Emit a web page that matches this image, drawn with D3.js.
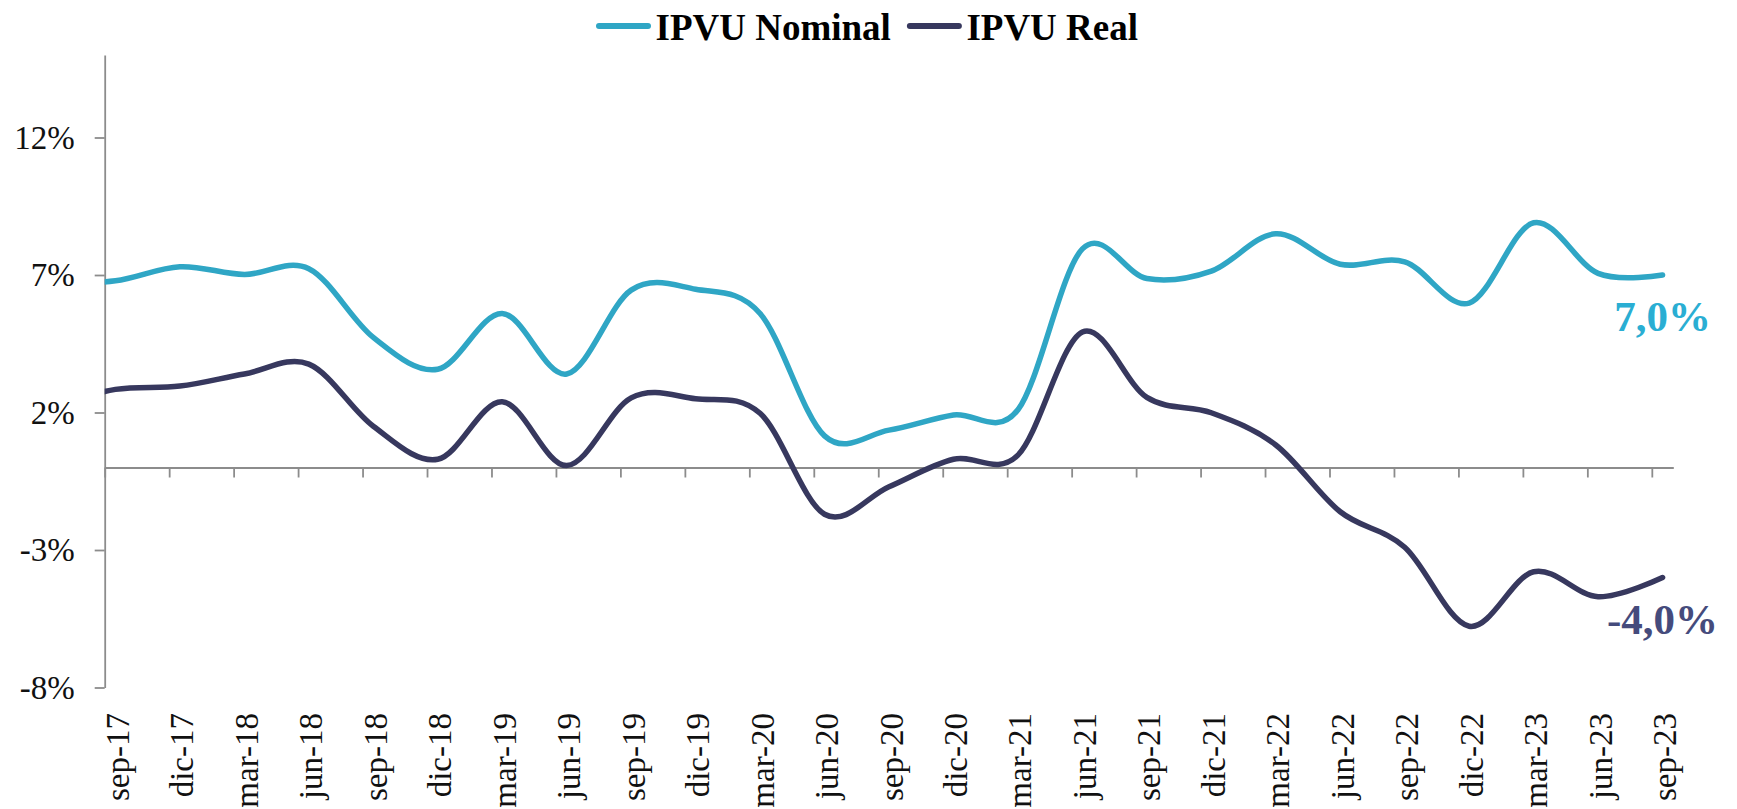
<!DOCTYPE html>
<html><head><meta charset="utf-8">
<script src="https://cdn.jsdelivr.net/npm/d3@7"></script>
<style>
html,body{margin:0;padding:0;background:#fff;}
svg{display:block;}
</style></head><body>
<svg id="chart" width="1737" height="809"></svg>
<script>
// Quarterly periods; "jun-17" is a lead-in point left of the axis (clipped, like the original)
const periods = ["jun-17","sep-17","dic-17","mar-18","jun-18","sep-18","dic-18","mar-19","jun-19","sep-19","dic-19","mar-20","jun-20","sep-20","dic-20","mar-21","jun-21","sep-21","dic-21","mar-22","jun-22","sep-22","dic-22","mar-23","jun-23","sep-23"];
const nominal = [6.70, 6.79, 7.30, 7.02, 7.23, 4.73, 3.57, 5.60, 3.40, 6.45, 6.48, 5.60, 1.15, 1.36, 1.91, 2.10, 7.95, 6.87, 7.14, 8.50, 7.39, 7.48, 5.98, 8.90, 7.06, 7.00];
const real    = [2.20, 2.84, 2.96, 3.40, 3.76, 1.50, 0.30, 2.39, 0.07, 2.53, 2.50, 1.97, -1.70, -0.70, 0.30, 0.45, 4.93, 2.55, 1.99, 0.82, -1.61, -2.90, -5.77, -3.79, -4.70, -4.00];
const yTicks = [-8, -3, 2, 7, 12];
const tickLabels = periods.slice(1);
const seriesNames = ["IPVU Nominal", "IPVU Real"];
const endLabels = ["7,0%", "-4,0%"];

const lineColors = ["#2fa6c5", "#37385e"];
const labelColors = ["#2aaed3", "#454b7c"];
const axisColor = "#8c8c8c";
const FONT = "'Liberation Serif', 'DejaVu Serif', serif";

const svg = d3.select("#chart");

// month-slot scale (date axis with monthly base unit, sep-17 .. sep-23 = 73 slots)
const x = d3.scaleLinear().domain([0, 73]).range([104.7, 1673.3]);
const y = d3.scaleLinear().domain([-8, 15]).range([687.5, 55]);
const monthOf = i => (i - 1) * 3 + 0.5;
const tickMonths = tickLabels.map((d, k) => k * 3);

// clip to plot area
svg.append("defs").append("clipPath").attr("id", "plot")
  .append("rect").attr("x", x(0)).attr("y", 0).attr("width", x(73) - x(0) + 20).attr("height", 809);

// Y axis
const gy = svg.append("g").attr("transform", `translate(${x(0)},0)`)
  .call(d3.axisLeft(y).tickValues(yTicks).tickSize(10).tickSizeOuter(0).tickPadding(20).tickFormat(d => d + "%"));
gy.selectAll("path, line").attr("stroke", axisColor).attr("stroke-width", 1.8);
gy.selectAll("text").attr("font-family", FONT).attr("font-size", 33).attr("fill", "#111");

// X axis at zero
const gx = svg.append("g").attr("transform", `translate(0,${y(0)})`)
  .call(d3.axisBottom(x).tickValues(tickMonths).tickSize(10).tickSizeOuter(0).tickFormat(""));
gx.selectAll("path, line").attr("stroke", axisColor).attr("stroke-width", 1.8);

// X tick labels at bottom, rotated
svg.append("g").selectAll("text").data(tickLabels).join("text")
  .attr("transform", (d, k) => `translate(${x(tickMonths[k] + 0.5) + 2},713) rotate(-90)`)
  .attr("text-anchor", "end").attr("dy", "0.35em")
  .attr("font-family", FONT).attr("font-size", 33).attr("fill", "#111")
  .text(d => d);

// Lines
const line = d3.line().x((d, i) => x(monthOf(i))).y(d => y(d)).curve(d3.curveCardinal.tension(0));
const series = [nominal, real];
svg.append("g").attr("clip-path", "url(#plot)").selectAll("path").data(series).join("path")
  .attr("d", d => line(d)).attr("fill", "none")
  .attr("stroke", (d, i) => lineColors[i]).attr("stroke-width", 5.5)
  .attr("stroke-linecap", "round").attr("stroke-linejoin", "round");

// End labels
series.forEach((s, i) => {
  const last = s.length - 1;
  svg.append("text")
    .attr("x", x(monthOf(last))).attr("y", y(s[last]) + 56)
    .attr("text-anchor", "middle")
    .attr("font-family", FONT).attr("font-weight", "bold").attr("font-size", 43)
    .attr("fill", labelColors[i]).text(endLabels[i]);
});

// Legend
let lx = 599;
seriesNames.forEach((name, i) => {
  svg.append("line").attr("x1", lx).attr("x2", lx + 49).attr("y1", 26).attr("y2", 26)
    .attr("stroke", lineColors[i]).attr("stroke-width", 6).attr("stroke-linecap", "round");
  const t = svg.append("text").attr("x", lx + 56.5).attr("y", 40)
    .attr("font-family", FONT).attr("font-weight", "bold").attr("font-size", 37)
    .attr("fill", "#000").text(name);
  lx = lx + 56.5 + t.node().getComputedTextLength() + 19;
});
</script>
</body></html>
